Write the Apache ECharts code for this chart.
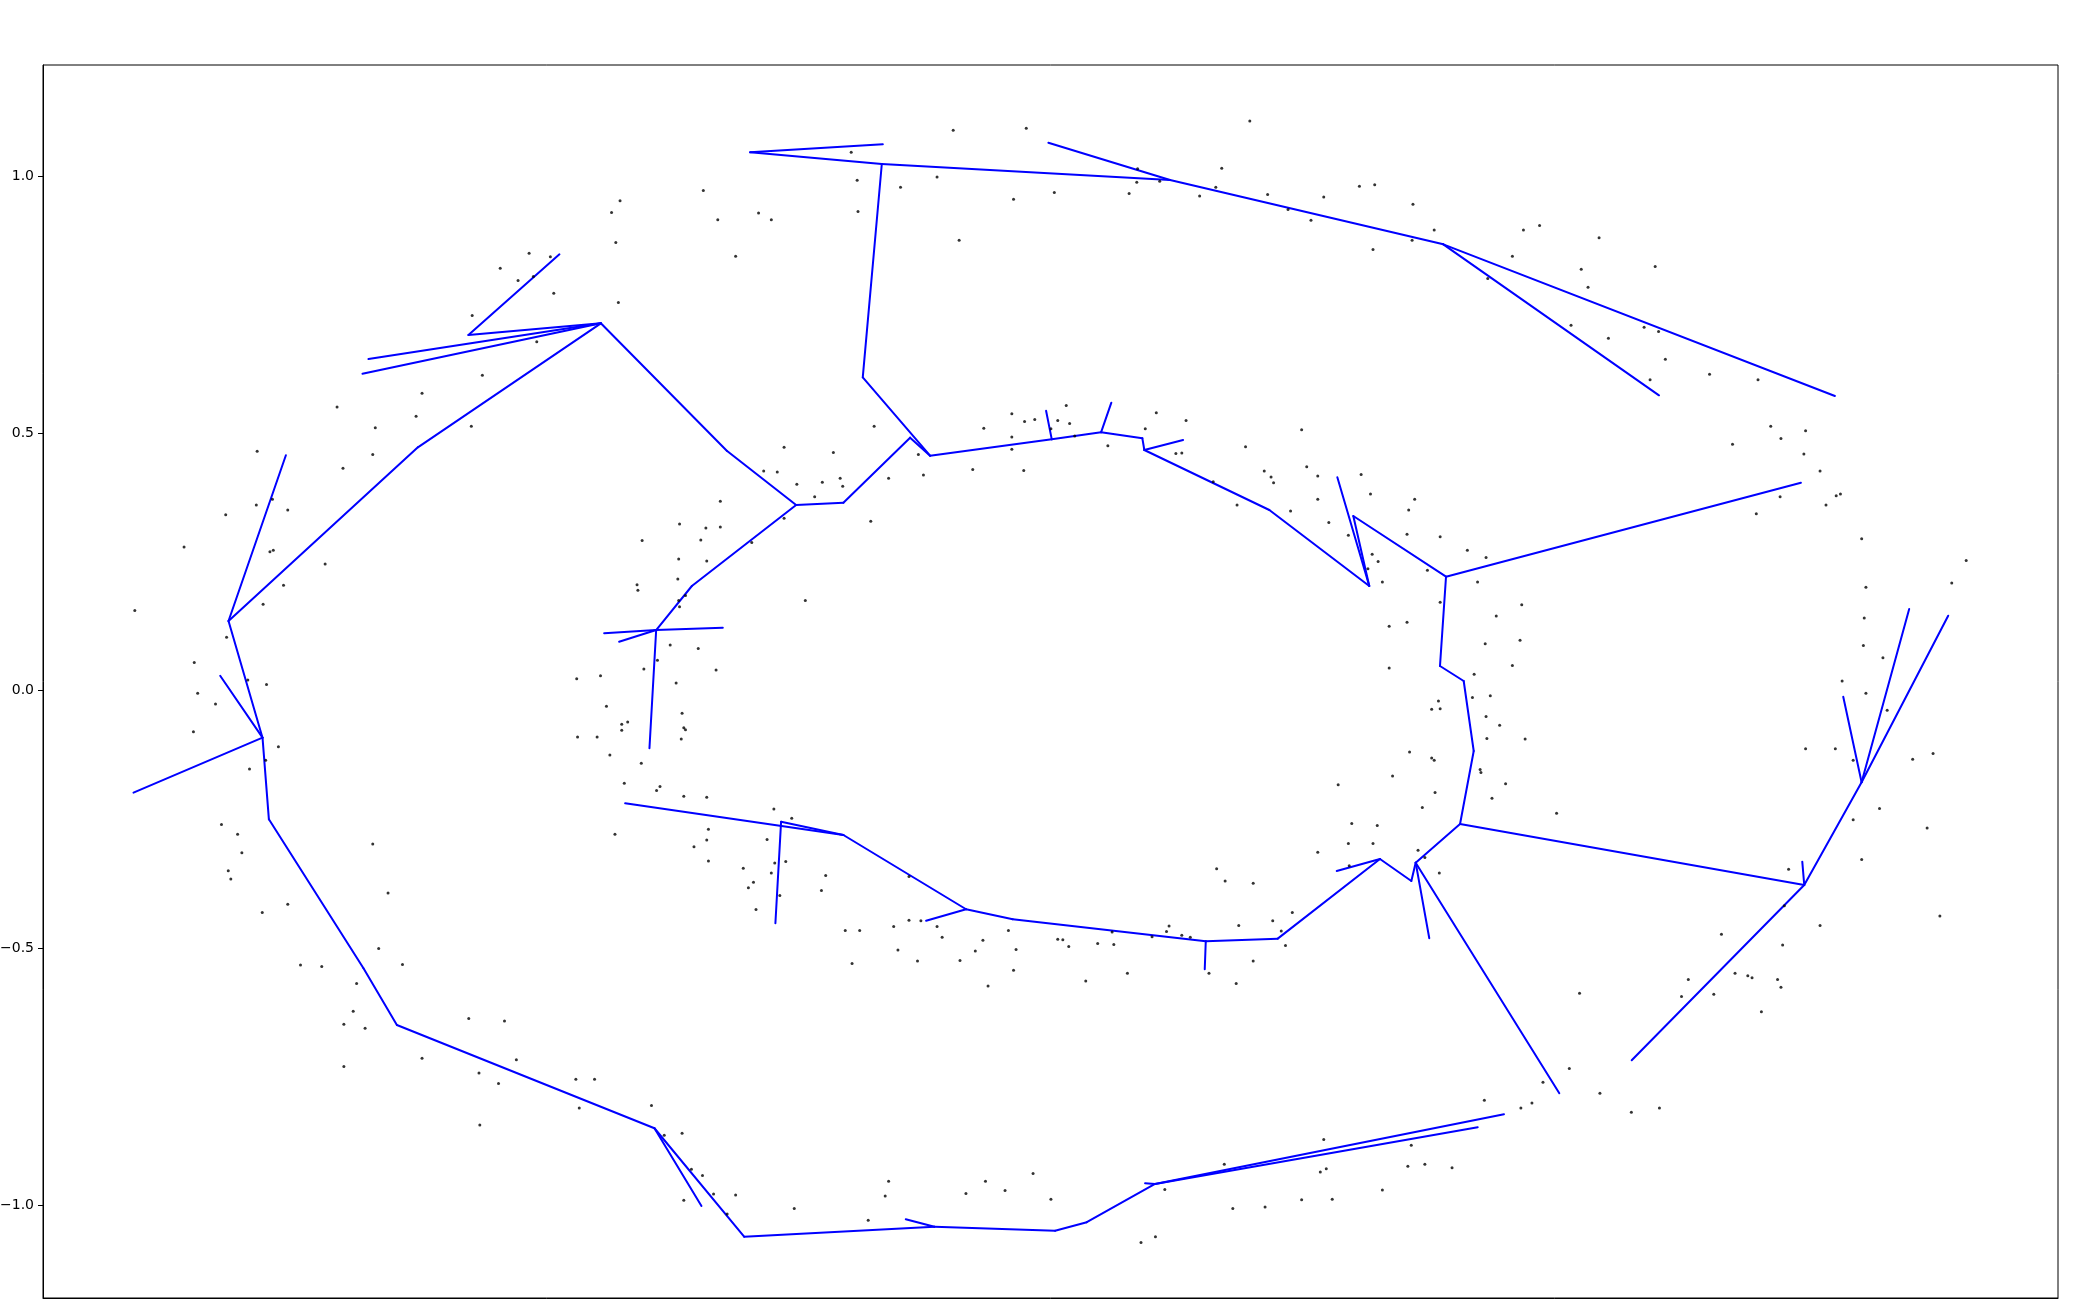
<!DOCTYPE html>
<html><head><meta charset="utf-8">
<script src="https://cdn.jsdelivr.net/npm/echarts@6/dist/echarts.min.js"></script>
<style>html,body{margin:0;padding:0;background:#fff}#c{width:2100px;height:1300px}</style>
</head><body><div id="c"></div>
<script>
// y-axis tick labels
const yTickValues = [-1.0, -0.5, 0.0, 0.5, 1.0];

// scattered samples (x, y)
const pointX = [
-0.613,-0.647,-0.626,-0.608,-0.680,-0.604,-0.668,-0.739,-0.839,-0.746,-0.794,-0.681,-0.933,-0.797,-0.832,
-0.114,-0.028,-0.234,-0.227,-0.176,-0.133,-0.043,-0.408,-0.506,-0.516,-0.391,-0.343,-0.328,-0.226,-0.107,-0.511,-0.370,-0.588,-0.584,-0.508,-0.207,-0.313,-0.255,-0.155,-0.078,-0.045,-0.030,-0.018,-0.045,-0.045,-0.091,
0.235,0.005,0.103,0.102,0.129,0.093,0.202,0.195,0.176,0.256,0.280,0.322,0.307,0.364,0.382,0.427,0.452,0.426,0.380,0.557,0.576,0.544,0.515,0.019,0.009,0.023,0.001,0.029,0.125,0.160,0.112,0.068,0.148,0.155,0.296,0.230,0.302,
0.646,0.625,0.712,0.633,0.613,0.657,0.699,0.716,0.724,0.776,0.833,0.706,0.848,0.889,0.860,0.803,0.887,
-0.915,-0.934,-0.970,-0.897,-1.019,-0.918,-0.914,-0.853,-0.902,-1.077,-0.926,-0.969,-1.007,-0.944,-0.922,-1.003,-0.982,-1.008,-0.908,-0.923,-0.942,-0.975,-0.956,-0.951,-0.797,-0.967,-0.964,
-0.337,-0.321,-0.247,-0.244,-0.268,-0.298,-0.277,-0.190,-0.149,-0.031,-0.388,-0.436,-0.405,-0.388,-0.411,-0.480,-0.351,-0.313,-0.211,-0.437,-0.404,-0.438,-0.486,-0.485,-0.429,-0.437,-0.436,-0.288,-0.447,-0.414,-0.462,-0.478,-0.393,-0.529,-0.557,-0.440,-0.522,-0.433,-0.497,-0.504,-0.504,-0.431,-0.429,-0.434,-0.556,-0.533,-0.518,-0.481,-0.501,-0.459,-0.463,-0.431,-0.404,-0.325,-0.304,-0.402,-0.512,-0.404,-0.419,-0.333,-0.402,-0.361,-0.324,-0.311,-0.328,-0.264,-0.166,
0.252,0.260,0.263,0.315,0.366,0.192,0.220,0.283,0.315,0.328,0.377,0.429,0.422,0.351,0.420,0.459,0.379,0.386,0.374,0.391,0.444,0.491,0.513,0.503,0.459,0.555,0.525,0.399,0.420,0.512,0.553,0.544,0.399,0.499,0.497,0.518,0.457,0.449,0.459,0.513,0.529,0.514,0.559,0.423,0.449,0.452,0.506,0.507,0.403,0.339,0.536,0.453,0.520,0.438,0.355,0.385,0.351,0.380,0.315,0.433,0.441,0.352,0.458,0.196,
0.906,0.859,0.831,0.913,0.925,0.930,0.955,1.078,0.960,1.061,0.958,0.957,0.980,0.932,0.960,0.985,0.889,0.924,0.945,1.015,1.039,0.976,0.945,1.032,0.955,0.869,0.596,
-0.927,-0.897,-0.779,-0.790,-0.762,-0.882,-0.857,-0.816,-0.820,-0.831,-0.806,-0.831,-0.739,-0.684,-0.642,-0.628,-0.672,-0.649,-0.671,
-0.349,-0.355,-0.269,-0.318,-0.346,-0.241,-0.224,-0.184,-0.166,-0.152,-0.133,-0.127,-0.179,-0.233,-0.156,-0.106,-0.088,-0.079,-0.049,-0.040,-0.043,-0.073,-0.558,-0.536,-0.554,-0.469,-0.454,-0.433,-0.422,-0.409,-0.396,-0.370,-0.431,-0.380,-0.301,-0.214,-0.194,-0.190,-0.099,-0.076,-0.053,-0.020,
0.206,0.239,0.285,0.262,0.222,0.272,0.277,0.140,0.137,0.155,0.165,0.120,0.073,0.009,0.015,0.022,0.056,0.075,0.091,0.042,0.187,0.219,0.239,0.511,0.554,0.567,0.322,0.425,0.205,0.421,0.441,0.473,0.325,0.318,0.135,0.001,0.215,0.253,0.296,0.332,0.391,0.124,0.107,
0.864,0.906,0.790,0.862,0.751,0.743,0.781,0.806,0.821,0.826,0.856,0.860,0.837,0.623,0.611,0.580,0.647,0.684,0.717,1.047
];
const pointY = [
0.850,0.821,0.797,0.805,0.729,0.678,0.613,0.578,0.551,0.533,0.511,0.514,0.465,0.459,0.432,
1.089,1.093,1.046,0.992,0.978,0.998,0.955,0.972,0.952,0.929,0.915,0.928,0.915,0.931,0.875,0.871,0.844,0.843,0.772,0.754,0.514,0.473,0.463,0.459,0.510,0.538,0.523,0.527,0.493,0.469,0.430,
1.107,0.968,1.014,0.988,0.990,0.966,1.015,0.978,0.961,0.964,0.935,0.959,0.914,0.980,0.983,0.945,0.895,0.875,0.857,0.895,0.904,0.844,0.801,0.554,0.525,0.519,0.509,0.495,0.540,0.525,0.509,0.476,0.461,0.462,0.507,0.474,0.435,
0.880,0.819,0.824,0.784,0.710,0.685,0.706,0.698,0.644,0.615,0.604,0.604,0.514,0.505,0.490,0.479,0.460,
0.372,0.361,0.342,0.351,0.279,0.270,0.273,0.246,0.205,0.156,0.168,0.104,0.055,0.021,0.012,-0.005,-0.026,-0.080,-0.109,-0.135,-0.152,-0.260,-0.279,-0.315,-0.298,-0.350,-0.366,
0.427,0.425,0.413,0.397,0.405,0.401,0.377,0.413,0.419,0.428,0.368,0.324,0.316,0.318,0.293,0.292,0.288,0.335,0.329,0.256,0.252,0.217,0.206,0.195,0.185,0.175,0.163,0.175,0.089,0.082,0.059,0.042,0.040,0.029,0.023,0.015,-0.030,-0.044,-0.061,-0.065,-0.077,-0.072,-0.076,-0.094,-0.090,-0.090,-0.125,-0.141,-0.180,-0.186,-0.194,-0.205,-0.207,-0.230,-0.248,-0.269,-0.279,-0.290,-0.303,-0.289,-0.331,-0.345,-0.335,-0.332,-0.354,-0.359,-0.361,
0.427,0.415,0.404,0.417,0.420,0.406,0.361,0.349,0.372,0.327,0.382,0.372,0.351,0.302,0.304,0.299,0.265,0.251,0.237,0.211,0.234,0.273,0.259,0.211,0.172,0.167,0.145,0.125,0.133,0.091,0.098,0.049,0.044,0.032,-0.013,-0.010,-0.020,-0.036,-0.035,-0.050,-0.067,-0.093,-0.094,-0.119,-0.131,-0.135,-0.153,-0.159,-0.166,-0.183,-0.181,-0.198,-0.209,-0.227,-0.258,-0.262,-0.297,-0.297,-0.314,-0.310,-0.324,-0.340,-0.354,-0.346,
0.427,0.377,0.344,0.361,0.379,0.382,0.295,0.253,0.201,0.209,0.141,0.088,0.064,0.019,-0.005,-0.038,-0.113,-0.113,-0.135,-0.133,-0.122,-0.229,-0.251,-0.267,-0.328,-0.347,-0.238,
-0.431,-0.415,-0.393,-0.501,-0.532,-0.533,-0.536,-0.569,-0.623,-0.648,-0.656,-0.730,-0.714,-0.637,-0.642,-0.717,-0.743,-0.763,-0.844,
-0.372,-0.383,-0.388,-0.398,-0.425,-0.466,-0.466,-0.458,-0.446,-0.447,-0.458,-0.479,-0.504,-0.530,-0.525,-0.524,-0.506,-0.485,-0.466,-0.503,-0.543,-0.574,-0.755,-0.755,-0.811,-0.806,-0.864,-0.860,-0.930,-0.942,-0.978,-0.980,-0.990,-1.017,-1.006,-1.029,-0.982,-0.953,-0.977,-0.953,-0.971,-0.938,
-0.370,-0.374,-0.431,-0.447,-0.456,-0.467,-0.495,-0.457,-0.468,-0.475,-0.479,-0.478,-0.469,-0.483,-0.484,-0.497,-0.491,-0.493,-0.549,-0.564,-0.549,-0.569,-0.525,-0.796,-0.811,-0.801,-0.872,-0.883,-0.920,-0.924,-0.920,-0.927,-0.929,-0.935,-0.969,-0.988,-1.006,-1.003,-0.989,-0.988,-0.970,-1.061,-1.072,
-0.418,-0.456,-0.473,-0.494,-0.561,-0.594,-0.590,-0.549,-0.554,-0.558,-0.561,-0.576,-0.624,-0.588,-0.734,-0.761,-0.782,-0.819,-0.811,-0.438
];

// tree nodes
const nodeNames = ['H1','V','Vtop','L1','L2','N1','N2','N2a','N3','N3a','N3b','N4','N5','N6','N7','N7a','N8','N9','N9a','N10','N11','N12','N12a','N12b','N12c',
'M1','M2','M3','M3a','M4','M4a','M5','M6','M6a','M7','M8','M8a','M9','M10','M10a','M10b','M11','M12','M13','M14','M15','M15a','M16','M17','M17a','M18','M19','M19a','M20','M21','M21a','M22','M22a',
'Q','P','R','S','Ta','Tb','T','Tc','U','Ua','Ub','K1','K2','K3','K4','K5','K5a','K5b','K5c','K5d','R1','R1a','R1b','R2','R2a','R2b','R2c'];
const nodeX = [-0.5286,-0.6844,-0.5773,-0.8020,-0.8091,-0.7439,-0.9667,-0.8992,-0.9267,-0.9765,-1.0785,-0.9192,-0.8079,-0.7686,-0.4655,-0.4102,-0.3600,-0.1361,-0.1698,0.0059,0.0432,0.1235,0.1118,0.5341,0.5032,
-0.5000,-0.2432,-0.3165,-0.3232,-0.0988,-0.1459,-0.0439,0.1832,0.1820,0.2679,0.3882,0.3373,0.4251,0.4302,0.4462,0.5992,0.4824,0.4985,0.4867,0.4588,0.4659,0.8835,0.3568,0.3756,0.3380,0.2580,0.1109,0.1565,0.1086,0.0600,0.0721,0.0020,-0.0047,
-0.1412,-0.1647,-0.2204,-0.1980,-0.3529,-0.1968,0.1412,-0.0020,0.4627,0.9235,0.7165,-0.2432,-0.2988,-0.3804,-0.4215,-0.4635,-0.5247,-0.5071,-0.3851,-0.4714,0.8874,0.8851,0.6844,0.9549,0.9333,1.0109,1.0568];
const nodeY = [0.7138,0.6911,0.8479,0.6445,0.6159,0.4729,0.1354,0.4574,-0.0913,0.0291,-0.1982,-0.2499,-0.5393,-0.6495,-0.8502,-1.0012,-1.0608,-1.0414,-1.0270,-1.0492,-1.0328,-0.9584,-0.9571,-0.8230,-0.8483,
-0.2188,-0.2804,-0.2545,-0.4519,-0.4247,-0.4469,-0.4441,-0.4869,-0.5413,-0.4818,-0.3270,-0.3503,-0.3697,-0.3342,-0.4811,-0.7822,-0.2590,-0.1172,0.0188,0.0480,0.2215,0.4041,0.3394,0.2034,0.4146,0.3511,0.4677,0.4871,0.4904,0.5020,0.5596,0.4884,0.5440,
0.4566,0.4916,0.6089,1.0233,1.0460,1.0616,0.9922,1.0647,0.8673,0.5726,0.5739,0.3653,0.3608,0.4663,0.2034,0.1179,0.1115,0.0952,0.1224,-0.1119,-0.3775,-0.3322,-0.7181,-0.1780,-0.0117,0.1587,0.1457];

// tree edges
const edges = [
['H1','V'],['V','Vtop'],['H1','L1'],['H1','L2'],['H1','N1'],['H1','K3'],['N1','N2'],['N2','N2a'],['N2','N3'],['N3','N3a'],['N3','N3b'],['N3','N4'],['N4','N5'],['N5','N6'],['N6','N7'],['N7','N7a'],['N7','N8'],['N8','N9'],['N9','N9a'],['N9','N10'],['N10','N11'],['N11','N12'],['N12','N12a'],['N12','N12b'],['N12','N12c'],
['K3','K2'],['K2','K1'],['K1','P'],['P','Q'],['R','Q'],['Q','M22'],['M22','M22a'],['M22','M21'],['M21','M21a'],['M21','M20'],['M20','M19'],['M19','M19a'],['M19','M18'],['M18','M17'],['M17','M17a'],['M17','M16'],['M16','M15'],['M15','M15a'],['M15','M14'],['M14','M13'],['M13','M12'],['M12','M11'],['M11','R1'],['M11','M10'],['M10','M10a'],['M10','M10b'],['M10','M9'],['M9','M8'],['M8','M8a'],['M8','M7'],['M7','M6'],['M6','M6a'],['M6','M5'],['M5','M4'],['M4','M4a'],['M4','M2'],['M2','M1'],['M2','M3'],['M3','M3a'],
['K2','K4'],['K4','K5'],['K5','K5a'],['K5','K5b'],['K5','K5c'],['K5','K5d'],
['S','R'],['S','Ta'],['Ta','Tb'],['S','T'],['T','Tc'],['T','U'],['U','Ua'],['U','Ub'],
['R1','R1a'],['R1','R1b'],['R1','R2'],['R2','R2a'],['R2','R2b'],['R2','R2c']
];

function nodePos(name){ const i = nodeNames.indexOf(name); return [nodeX[i], nodeY[i]]; }
const scatterData = pointX.map((x,i)=>[x, pointY[i]]);
const lineData = edges.map(e=>({coords:[nodePos(e[0]), nodePos(e[1])]}));

const chart = echarts.init(document.getElementById('c'), null, {renderer:'canvas'});
const fmt = v => { const s = Number(v).toFixed(1); return s.replace('-', '\u2212'); };
chart.setOption({
  animation:false,
  backgroundColor:'#ffffff',
  grid:{left:43, right:42, top:65, bottom:2, containLabel:false, outerBoundsMode:'none', show:true, borderColor:'#000', borderWidth:1, backgroundColor:'transparent'},
  xAxis:{type:'value', min:-1.185, max:1.186, axisLine:{show:true, onZero:false, lineStyle:{color:'#000', width:1}}, axisTick:{show:false}, axisLabel:{show:false}, splitLine:{show:false}},
  yAxis:{type:'value', min:-1.18, max:1.2157,
    axisLine:{show:true, onZero:false, lineStyle:{color:'#000', width:1}},
    axisTick:{show:true, inside:false, length:5, lineStyle:{color:'#000'}, customValues:yTickValues},
    axisLabel:{show:true, margin:9, color:'#000', fontFamily:'DejaVu Sans', fontSize:14, customValues:yTickValues, formatter:fmt},
    splitLine:{show:false}},
  series:[
    {type:'lines', coordinateSystem:'cartesian2d', z:2, silent:true, data:lineData,
     lineStyle:{color:'#0000ff', width:2, opacity:1, cap:'round', join:'round'}},
    {type:'scatter', z:3, symbol:'circle', symbolSize:3, itemStyle:{color:'#000'}, data:scatterData, silent:true}
  ]
});
</script></body></html>
